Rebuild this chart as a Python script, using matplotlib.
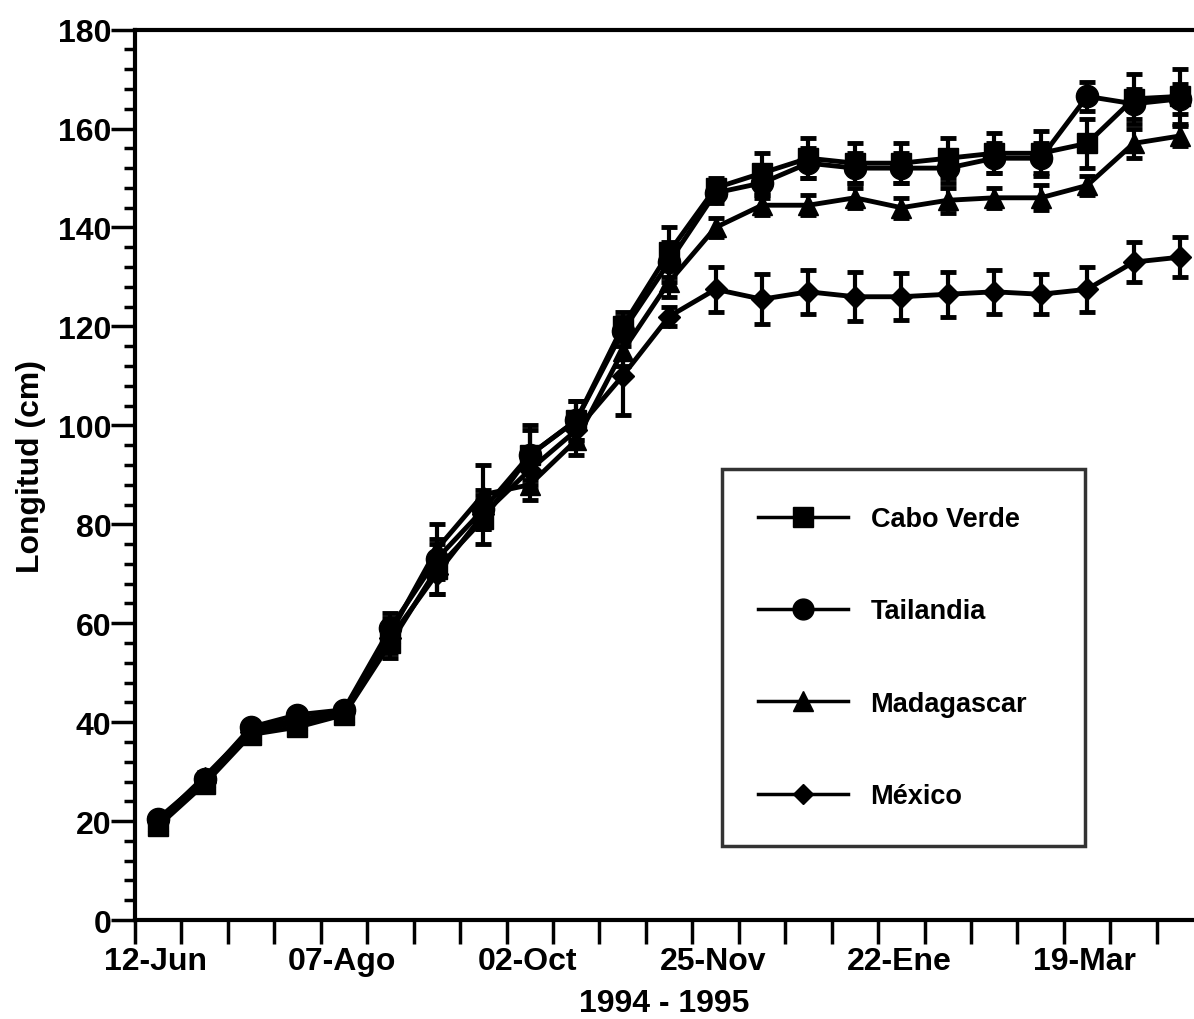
import numpy as np
import matplotlib
matplotlib.use("Agg")
import matplotlib.pyplot as plt
from matplotlib.lines import Line2D

plt.rcParams['font.family'] = ['Liberation Sans', 'DejaVu Sans']
plt.rcParams['font.weight'] = 'bold'

# muestreos quincenales, 12-Jun 1994 a abril 1995
muestreo = np.arange(23) + 0.5
fechas = ['12-Jun', '07-Ago', '02-Oct', '25-Nov', '22-Ene', '19-Mar']
pos_fechas = [0, 4, 8, 12, 16, 20]

cabo_verde = [19, 27.5, 37.5, 39, 41.5, 56, 71, 81, 94, 101, 120, 135, 148, 151,
              154, 153, 153, 154, 155, 155, 157, 166, 166.5]
cabo_verde_err = [1, 1, 1, 1, 1, 3, 5, 5, 6, 4, 3, 5, 2, 4,
                  4, 4, 4, 4, 4, 4.5, 5, 5, 5.5]

tailandia = [20.5, 28.5, 39, 41.5, 42.5, 59, 73, 83, 94, 101, 119, 133, 147, 149,
             153, 152, 152, 152, 154, 154, 166.5, 165, 166]
tailandia_err = [1, 1, 1, 1, 1, 3, 4, 4, 5, 4, 3, 4, 2, 3,
                 3, 3, 3, 3, 3, 3, 3, 3, 3]

madagascar = [20, 29, 38.5, 40.5, 42, 58, 75, 86, 88, 97, 115, 129, 140, 144.5,
              144.5, 146, 144, 145.5, 146, 146, 148.5, 157, 158.5]
madagascar_err = [1, 1, 1, 1, 1, 3, 5, 6, 3, 3, 3, 3, 2, 2,
                  2, 2, 2, 2.5, 2, 2.5, 2, 3, 2]

mexico = [20, 28, 38, 40, 42, 57, 70, 82, 91, 99, 110, 122, 127.5, 125.5,
          127, 126, 126, 126.5, 127, 126.5, 127.5, 133, 134]
mexico_err = [1, 1, 1, 1, 1, 3, 4, 3, 4, 3, 8, 2, 4.5, 5,
              4.5, 5, 4.8, 4.5, 4.5, 4, 4.5, 4, 4]

fig = plt.figure(figsize=(11.94, 10.2), dpi=100)
ax = fig.add_axes([0.113, 0.097, 0.887, 0.873])

series = [
    (cabo_verde, cabo_verde_err, 's', 15, 'Cabo Verde'),
    (tailandia, tailandia_err, 'o', 16, 'Tailandia'),
    (madagascar, madagascar_err, '^', 15, 'Madagascar'),
    (mexico, mexico_err, 'D', 11, 'México'),
]
handles = []
for y, e, m, ms, nombre in series:
    ax.errorbar(muestreo, y, yerr=e, color='black', marker=m, markersize=ms,
                linewidth=3.5, elinewidth=3, capsize=6, capthick=3.5)
    handles.append(Line2D([], [], color='black', marker=m, markersize=ms - 1,
                          linewidth=2.5, label=nombre))

ax.set_xlim(0, 22.8)
ax.set_ylim(0, 180)

# marcas cada quincena, etiquetas junto a cada cuarta marca
ax.set_xticks(np.arange(23), minor=True)
ax.set_xticks(np.array(pos_fechas) + 0.45)
ax.set_xticklabels(fechas)
ax.set_yticks(np.arange(0, 181, 20))
ax.set_yticks(np.arange(0, 181, 4), minor=True)

ax.tick_params(axis='x', which='major', length=0, pad=19, labelsize=23)
ax.tick_params(axis='x', which='minor', direction='out', length=17, width=2.5)
ax.tick_params(axis='y', which='major', direction='out', length=17, width=2.5,
               pad=0, labelsize=23)
ax.tick_params(axis='y', which='minor', direction='out', length=8, width=2.5)

for lado in ['left', 'bottom', 'top']:
    ax.spines[lado].set_linewidth(3)
ax.spines['right'].set_visible(False)

ax.set_ylabel('Longitud (cm)', fontsize=23, fontweight='bold')
ax.yaxis.set_label_coords(-0.084, 0.51)
ax.set_xlabel('1994 - 1995', fontsize=23, fontweight='bold', labelpad=8)

leg = ax.legend(handles=handles, loc='upper left',
                bbox_to_anchor=(0.554, 0.506, 0.343, 0.0), mode='expand',
                fontsize=19.5, frameon=True, fancybox=False, labelspacing=2.45,
                handlelength=3.3, handletextpad=0.85, borderpad=1.35,
                borderaxespad=0)
leg.get_frame().set_edgecolor('black')
leg.get_frame().set_linewidth(2.5)

fig.savefig('out.png', dpi=100)
